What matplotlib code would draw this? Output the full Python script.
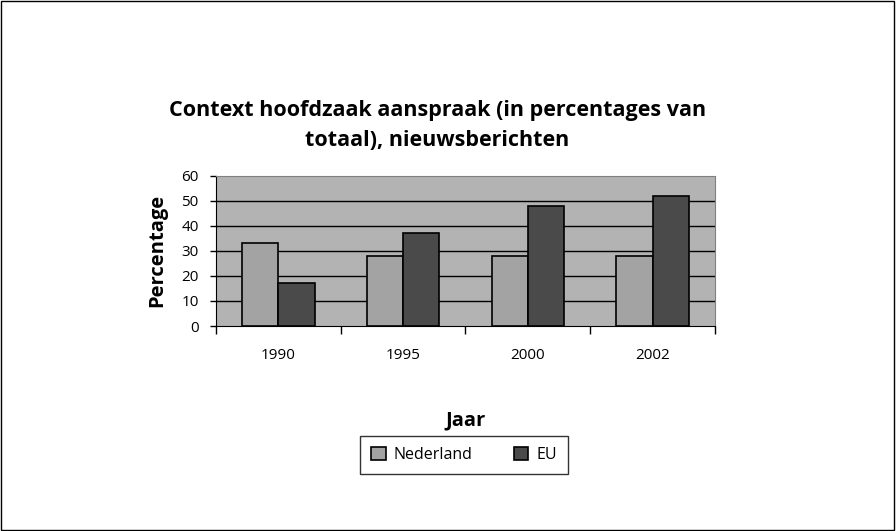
import numpy as np
import matplotlib.pyplot as plt
from matplotlib.patches import Rectangle

plt.rcParams['font.family'] = ['Open Sans', 'DejaVu Sans']

jaren = ['1990', '1995', '2000', '2002']
nederland = [33, 28, 28, 28]
eu = [17, 37, 48, 52]

fig = plt.figure(figsize=(8.96, 5.31), dpi=100)
fig.patches.append(Rectangle((0.001, 0.001), 0.997, 0.997, transform=fig.transFigure,
                             fill=False, edgecolor='black', linewidth=1))
ax = fig.add_axes([0.241, 0.386, 0.557, 0.283])
ax.set_facecolor('#b3b3b3')

x = np.arange(len(jaren))
w = 0.29
ax.bar(x - w / 2, nederland, w, color='#a3a3a3', edgecolor='black', linewidth=1.2,
       label='Nederland', zorder=3)
ax.bar(x + w / 2, eu, w, color='#4a4a4a', edgecolor='black', linewidth=1.2,
       label='EU', zorder=3)

ax.set_xlim(-0.5, 3.5)
ax.set_ylim(0, 60)
ax.set_yticks(range(0, 61, 10))
for v in range(10, 60, 10):
    ax.axhline(v, color='black', linewidth=1, zorder=1)

ax.set_xticks(x)
ax.set_xticklabels(jaren, fontsize=11)
ax.set_xticks(np.arange(-0.5, 4, 1), minor=True)
ax.tick_params(axis='x', which='major', length=0, pad=16)
ax.tick_params(axis='x', which='minor', length=6, width=1, color='black', direction='out')
ax.tick_params(axis='y', labelsize=11, length=4.5, width=1, pad=8)

for s in ['top', 'right']:
    ax.spines[s].set_color('#808080')
ax.spines['left'].set_color('black')
ax.spines['bottom'].set_color('black')

ax.set_ylabel('Percentage', fontsize=14.5, fontweight='bold', labelpad=10)
ax.set_xlabel('Jaar', fontsize=14.5, fontweight='bold', labelpad=34)

fig.text(0.488, 0.763, 'Context hoofdzaak aanspraak (in percentages van\ntotaal), nieuwsberichten',
         ha='center', va='center', fontsize=15.5, fontweight='bold', linespacing=1.55)

leg = fig.legend(loc='center', bbox_to_anchor=(0.518, 0.143), ncol=2, fontsize=11.5,
                 frameon=True, fancybox=False, edgecolor='black', handlelength=0.9,
                 handleheight=0.9, columnspacing=2.6, borderpad=0.7, handletextpad=0.5)
leg.get_frame().set_linewidth(1)

fig.savefig('out.png', dpi=100)
